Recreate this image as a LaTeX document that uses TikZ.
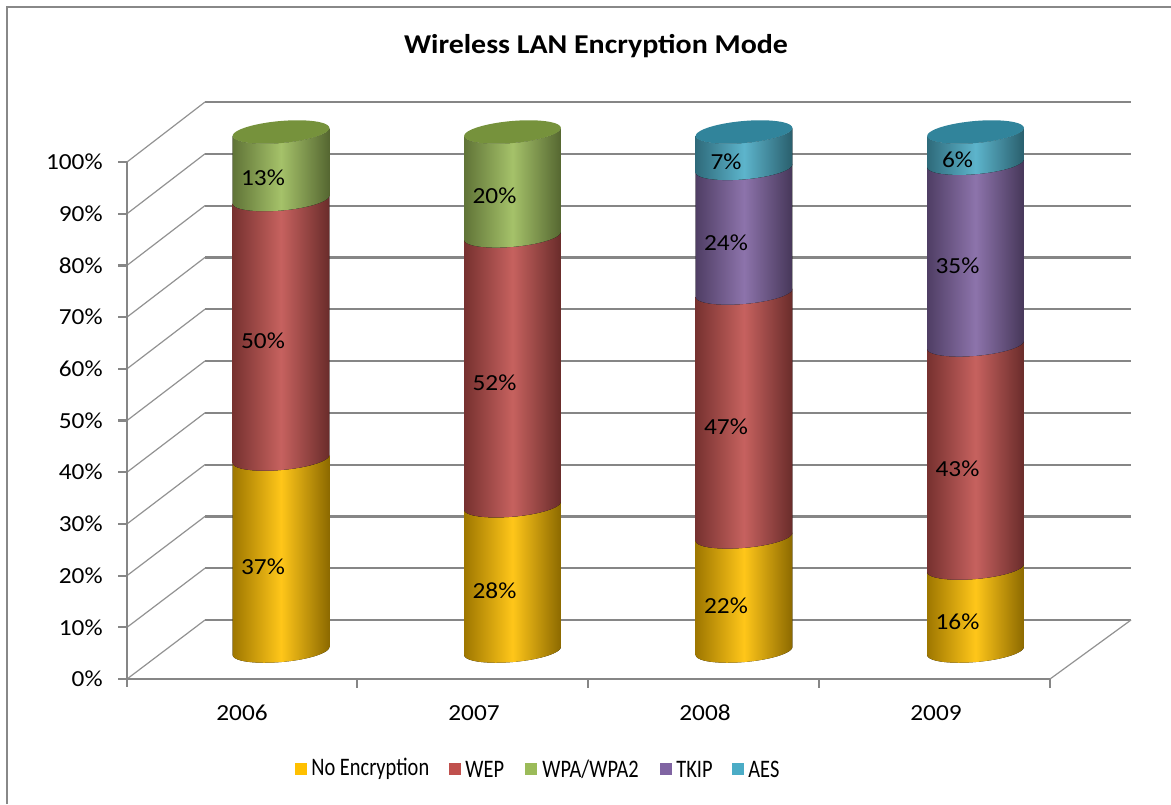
\documentclass[tikz,border=0pt]{standalone}
\usepackage{fontspec}
\setmainfont{Carlito}
\newfontfamily\chartfont[FakeStretch=1.1]{Carlito}
\newfontfamily\legendfont[FakeStretch=0.81]{Carlito}
\definecolor{cNoEnc}{HTML}{FFC000}
\definecolor{cWEP}{HTML}{C0504D}
\definecolor{cWPA}{HTML}{9BBB59}
\definecolor{cTKIP}{HTML}{8064A2}
\definecolor{cAES}{HTML}{4BACC6}
\definecolor{tWPA}{HTML}{76923C}
\definecolor{tAES}{HTML}{31849B}
\definecolor{gridgray}{HTML}{868686}
\definecolor{framegray}{HTML}{888888}

% cylinder geometry (pixel-like units, y grows downwards)
\def\ra{48.5}  % horizontal radius of a cylinder
\def\rb{11}    % vertical radius of its ellipses
\def\th{-5}    % tilt of the ellipses
\def\ybase{651}
\def\pct{5.19}

% one stacked segment of a cylinder: centre x, from %, to %, colour
\newcommand\cylseg[4]{%
  \pgfmathsetmacro\ya{\ybase-\pct*#2}%
  \pgfmathsetmacro\yb{\ybase-\pct*#3}%
  \fill[left color=#4!62!black, right color=#4!55!black, middle color=#4!90!white]
    plot[domain=180:0,samples=41,variable=\t]
      ({#1+\ra*cos(\t)*cos(\th)-\rb*sin(\t)*sin(\th)},{\ya+\ra*cos(\t)*sin(\th)+\rb*sin(\t)*cos(\th)})
    -- plot[domain=0:180,samples=41,variable=\t]
      ({#1+\ra*cos(\t)*cos(\th)-\rb*sin(\t)*sin(\th)},{\yb+\ra*cos(\t)*sin(\th)+\rb*sin(\t)*cos(\th)})
    -- cycle;
}
% top cap of a cylinder at a given %
\newcommand\cylcap[3]{%
  \pgfmathsetmacro\yb{\ybase-\pct*#2}%
  \fill[#3]
    plot[domain=0:360,samples=73,variable=\t]
      ({#1+\ra*cos(\t)*cos(\th)-\rb*sin(\t)*sin(\th)},{\yb+\ra*cos(\t)*sin(\th)+\rb*sin(\t)*cos(\th)})
    -- cycle;
}
% value label inside a segment
\newcommand\seglabel[5]{%
  \pgfmathsetmacro\ym{\ybase-\pct*(#2+#3)/2+12}%
  \node[vallabel] (#5) at (#1-18,\ym) {#4};
}

\begin{document}
\begin{tikzpicture}[x=0.5pt,y=-0.5pt,
    every node/.style={inner sep=0pt, font=\chartfont\fontsize{11.5}{13}\selectfont},
    vallabel/.style={anchor=center},
    ticklabel/.style={anchor=east},
    catlabel/.style={anchor=center},
    legtext/.style={anchor=west, font=\legendfont\fontsize{12.6}{14}\selectfont},
    legbox/.style={minimum size=6pt, inner sep=0pt, anchor=west},
    grid/.style={gridgray, line width=1.1pt},
    wall/.style={gridgray!90, line width=0.6pt},
    axisline/.style={gridgray, line width=1.1pt}]
  \useasboundingbox (0,0) rectangle (1171,804);
  \fill[white] (0,0) rectangle (1171,804);
  % chart frame
  \draw[framegray, line width=1pt] (7,804) -- (7,7) -- (1171,7);

  % title
  \node[font=\chartfont\fontsize{13.6}{15}\selectfont\bfseries] (title) at (596,46) {Wireless LAN Encryption Mode};

  % back wall grid, left wall and axis ticks
  \foreach \k in {0,...,10}{
    \pgfmathsetmacro\yf{679-51.7*\k}
    \pgfmathsetmacro\yk{620-51.8*\k}
    \coordinate (gb\k) at (205,\yk);
    \coordinate (ge\k) at (1131,\yk);
    \coordinate (gf\k) at (127,\yf);
    \coordinate (gt\k) at (118,\yf);
    \draw[grid] (gb\k) -- (ge\k);
    \draw[wall] (gf\k) -- (gb\k);
    \draw[axisline] (gt\k) -- (gf\k);
    \pgfmathtruncatemacro\lab{10*\k}
    \node[ticklabel] (tl\k) at (103,\yf) {\lab\%};
  }
  % vertical axis and floor
  \coordinate (ax) at (127,687);
  \draw[axisline] (gf10) -- (ax);
  \coordinate (fr) at (1050,679);
  \draw[axisline] (gf0) -- (fr);
  \draw[wall] (fr) -- (ge0);
  \foreach \i/\x in {0/357,1/588,2/819,3/1050}{
    \coordinate (tk\i) at (\x,679);
    \coordinate (tb\i) at (\x,688);
    \draw[axisline] (tk\i) -- (tb\i);
  }

  % 2006
  \cylseg{281}{0}{37}{cNoEnc}
  \cylseg{281}{37}{87}{cWEP}
  \cylseg{281}{87}{100}{cWPA}
  \cylcap{281}{100}{tWPA}
  \seglabel{281}{0}{37}{37\%}{v06a}
  \seglabel{281}{37}{87}{50\%}{v06b}
  \seglabel{281}{87}{100}{13\%}{v06c}
  % 2007
  \cylseg{512.5}{0}{28}{cNoEnc}
  \cylseg{512.5}{28}{80}{cWEP}
  \cylseg{512.5}{80}{100}{cWPA}
  \cylcap{512.5}{100}{tWPA}
  \seglabel{512.5}{0}{28}{28\%}{v07a}
  \seglabel{512.5}{28}{80}{52\%}{v07b}
  \seglabel{512.5}{80}{100}{20\%}{v07c}
  % 2008
  \cylseg{744}{0}{22}{cNoEnc}
  \cylseg{744}{22}{69}{cWEP}
  \cylseg{744}{69}{93}{cTKIP}
  \cylseg{744}{93}{100}{cAES}
  \cylcap{744}{100}{tAES}
  \seglabel{744}{0}{22}{22\%}{v08a}
  \seglabel{744}{22}{69}{47\%}{v08b}
  \seglabel{744}{69}{93}{24\%}{v08c}
  \seglabel{744}{93}{100}{7\%}{v08d}
  % 2009
  \cylseg{975.5}{0}{16}{cNoEnc}
  \cylseg{975.5}{16}{59}{cWEP}
  \cylseg{975.5}{59}{94}{cTKIP}
  \cylseg{975.5}{94}{100}{cAES}
  \cylcap{975.5}{100}{tAES}
  \seglabel{975.5}{0}{16}{16\%}{v09a}
  \seglabel{975.5}{16}{59}{43\%}{v09b}
  \seglabel{975.5}{59}{94}{35\%}{v09c}
  \seglabel{975.5}{94}{100}{6\%}{v09d}

  % category labels
  \node[catlabel] (y06) at (242,713) {2006};
  \node[catlabel] (y07) at (474,713) {2007};
  \node[catlabel] (y08) at (705,713) {2008};
  \node[catlabel] (y09) at (936,713) {2009};

  % legend
  \foreach \n/\bx/\tx/\c/\t in {a/295/311/cNoEnc/{No Encryption}, b/449/465/cWEP/{WEP},
      c/525/542/cWPA/{WPA/WPA2}, d/660/676/cTKIP/{TKIP}, e/732/748/cAES/{AES}}{
    \node[legbox, fill=\c] (lb\n) at (\bx,769) {};
    \node[legtext] (lt\n) at (\tx,769) {\t};
  }
\end{tikzpicture}
\end{document}
